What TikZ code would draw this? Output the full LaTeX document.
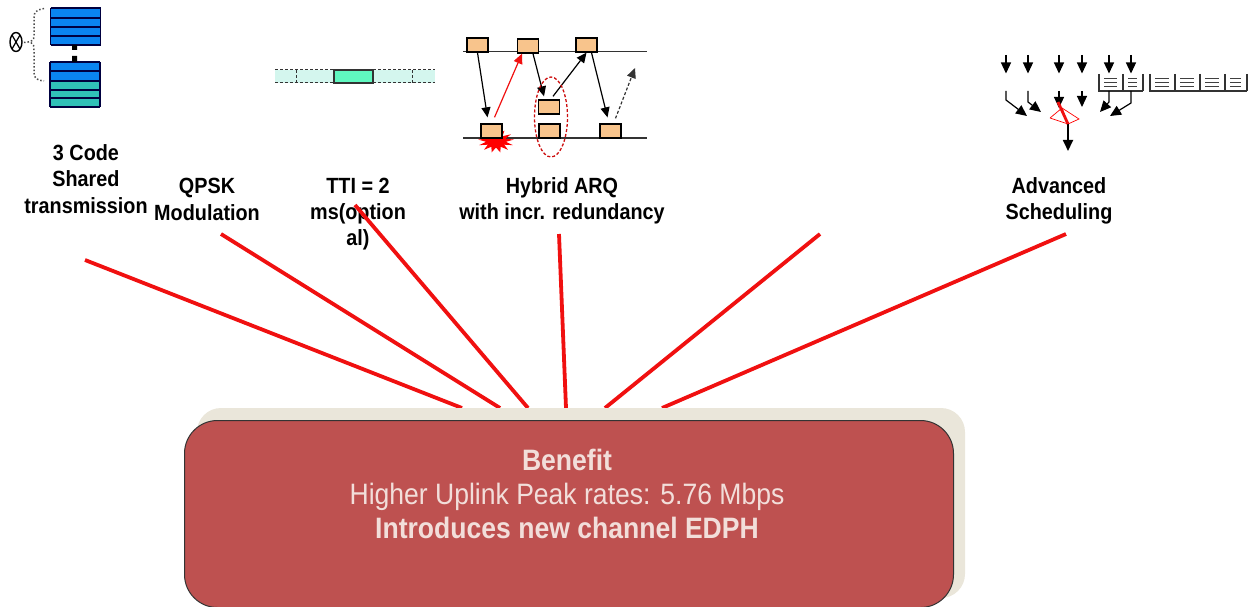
\documentclass[tikz,border=0pt]{standalone}
\usepackage{fontspec}
\setmainfont[FakeStretch=0.9]{Liberation Sans}
\usetikzlibrary{arrows.meta,shapes.geometric}
\definecolor{spoke}{HTML}{F01010}
\definecolor{boxred}{HTML}{BE5150}
\definecolor{boxshadow}{HTML}{EAE6DA}
\definecolor{boxtext}{HTML}{F2DEDA}
\definecolor{codeblue}{HTML}{0A84F0}
\definecolor{codeteal}{HTML}{30C0B8}
\definecolor{ttimint}{HTML}{60F8C0}
\definecolor{ttipale}{HTML}{D4F6EE}
\definecolor{harqbox}{HTML}{F8C48C}
\tikzset{
  spokeline/.style={draw=spoke,line width=3.8pt},
  caption/.style={align=center,font=\bfseries\fontsize{22}{26.3}\selectfont,text=black,inner sep=0pt},
  bodytext/.style={align=center,text=boxtext,inner sep=0pt,font=\fontsize{29.5}{34}\selectfont},
  coderow/.style={draw=black!75!blue,line width=1.2pt},
  harq/.style={draw=black,line width=1.3pt,fill=harqbox,minimum width=21pt,minimum height=14pt,inner sep=0pt},
  ack/.style={-{Triangle[length=10pt,width=9pt]},line width=1.2pt},
  sched/.style={-{Triangle[length=11pt,width=10pt]},line width=1.2pt},
  buf/.style={draw=black!80,line width=1.3pt},
}
\begin{document}
\begin{tikzpicture}[x=1pt,y=-1pt]
\useasboundingbox (0,0) rectangle (1251,607);
% captions
\node[caption] (c1) at (86,179) {3 Code\\Shared\\transmission};
\node[caption] (c2) at (207,199.5) {QPSK\\Modulation};
\node[caption] (c3) at (358,214) {TTI = 2\\ms(option\\al)};
\node[caption] (c4) at (562,201) {Hybrid ARQ\\with incr. redundancy};
\node[caption] (c5) at (1059,201) {Advanced\\Scheduling};
% spokes and box
\coordinate (s1) at (85,260);
\coordinate (s2) at (221,234);
\coordinate (s3) at (355,205);
\coordinate (s4) at (559,234);
\coordinate (s5) at (820,234);
\coordinate (s6) at (1066,234);
\coordinate (e1) at (462,408);
\coordinate (e2) at (500,408);
\coordinate (e3) at (528,408);
\coordinate (e4) at (566,408);
\coordinate (e5) at (605,408);
\coordinate (e6) at (662,408);
\foreach \i in {1,...,6} \draw[spokeline] (s\i) -- (e\i);
\fill[boxshadow,rounded corners=24pt] (197,408) rectangle (965,598);
\node[draw=black!80,line width=1pt,fill=boxred,rounded corners=33pt,minimum width=769pt,minimum height=187pt,anchor=north west,inner sep=0pt] (benefit) at (184,420) {};
\node[bodytext] (benefittext) at (567,493.5) {\textbf{Benefit}\\Higher Uplink Peak rates: 5.76 Mbps\\\textbf{Introduces new channel EDPH}};
% code icon
\fill[codeblue] (50.5,8) rectangle (100.5,45);
\foreach \y in {8,18,27,36,45} \draw[coderow] (50.5,\y) -- (100.5,\y);
\draw[coderow] (50.5,8) -- (50.5,45) (100.5,8) -- (100.5,45);
\fill[codeblue] (50,62) rectangle (100,81);
\fill[codeteal] (50,81) rectangle (100,107);
\foreach \y in {62,71,81,90,98,107} \draw[coderow] (50,\y) -- (100,\y);
\draw[coderow] (50,62) -- (50,107) (100,62) -- (100,107);
\fill[black] (72,45) rectangle (77,50) (72,56) rectangle (77,62);
\draw[line width=1.4pt] (16,42) circle[x radius=6pt,y radius=9.5pt];
\draw[line width=1.2pt] (12,35) -- (20,49) (20,35) -- (12,49);
\draw[dotted,line width=1.5pt,black!70] (44,8.5) .. controls (36,10) and (34,12) .. (34,18) -- (34,36) .. controls (34,40) and (32,42) .. (24,42.5) (31,42.5) .. controls (34,44) and (34,46) .. (34,52) -- (34,72) .. controls (34,78) and (36,80) .. (44,81);
% TTI icon
\fill[ttipale] (275,70) rectangle (435,83);
\draw[densely dashed,black!80,line width=1pt] (275,70) -- (334,70) (373,70) -- (435,70) (275,83) -- (334,83) (373,83) -- (435,83) (296,70) -- (296,83) (412,70) -- (412,83);
\draw[black!80,fill=ttimint,line width=1.2pt] (334,70) rectangle (373,83);
% HARQ icon
\draw[black!80,line width=1.2pt] (463,51.7) -- (647,51.7) (463,138) -- (647,138);
\node[star,star points=13,star point ratio=1.8,fill=red,minimum size=36pt,inner sep=0pt,yscale=.65] (burst) at (496,141) {};
\node[harq] (t1) at (477.5,45) {};
\node[harq] (t2) at (528,46) {};
\node[harq] (t3) at (586.5,45) {};
\node[harq] (b1) at (491.5,131) {};
\node[harq] (b2) at (549.5,131) {};
\node[harq] (b3) at (610.5,131) {};
\node[harq] (m) at (549,107) {};
\coordinate (dashend) at (635,68);
\draw[ack] (t1.south) -- ([xshift=-4pt,yshift=6pt]b1.north);
\draw[ack,spoke] ([xshift=3pt,yshift=6pt]b1.north) -- ([xshift=-6pt,yshift=0pt]t2.south);
\draw[ack] ([xshift=5pt]t2.south) -- ([xshift=-5pt,yshift=3pt]m.north);
\draw[ack] ([xshift=4pt,yshift=3pt]m.north) -- (t3.south);
\draw[ack] ([xshift=5pt]t3.south) -- ([xshift=-3pt,yshift=6pt]b3.north);
\draw[ack,densely dashed,black!80] ([xshift=5pt,yshift=5pt]b3.north) -- (dashend);
\draw[spoke!85!black,densely dashed,line width=1.3pt] (551,117) circle[x radius=16.5pt,y radius=40pt];
% scheduling icon
\foreach \x/\w in {1099/24,1123/20,1150/25,1175/25,1200/25,1225/22}{
  \draw[buf] (\x,74) -- (\x,91) -- (\x+\w,91);
  \draw[black!75,line width=1pt] (\x+5,79) -- (\x+\w-6,79) (\x+5,83) -- (\x+\w-6,83) (\x+5,87) -- (\x+\w-6,87);
}
\draw[buf] (1143,74) -- (1143,91) (1247,74) -- (1247,91);
\foreach \x in {1006,1028,1059,1082,1109,1131} \draw[sched] (\x,55) -- (\x,73.5);
\draw[sched] (1006,91) -- (1006,100) -- (1027,116);
\draw[sched] (1028,91) -- (1028,102) -- (1041,112);
\draw[sched] (1059,91) -- (1059,108);
\draw[sched] (1082,91) -- (1082,107);
\draw[sched] (1109,91) -- (1109,102) -- (1100,112);
\draw[sched] (1131,91) -- (1131,103) -- (1110,116);
\draw[red,line width=.7pt] (1050,118) -- (1062,108) -- (1079,119) -- (1068,124) -- (1050,118) (1062,108) -- (1068,124);
\draw[sched,line width=1.8pt] (1068,124) -- (1068,151);
\draw[spoke,line width=2.8pt] (1058,102) -- (1068,124);
\end{tikzpicture}
\end{document}
